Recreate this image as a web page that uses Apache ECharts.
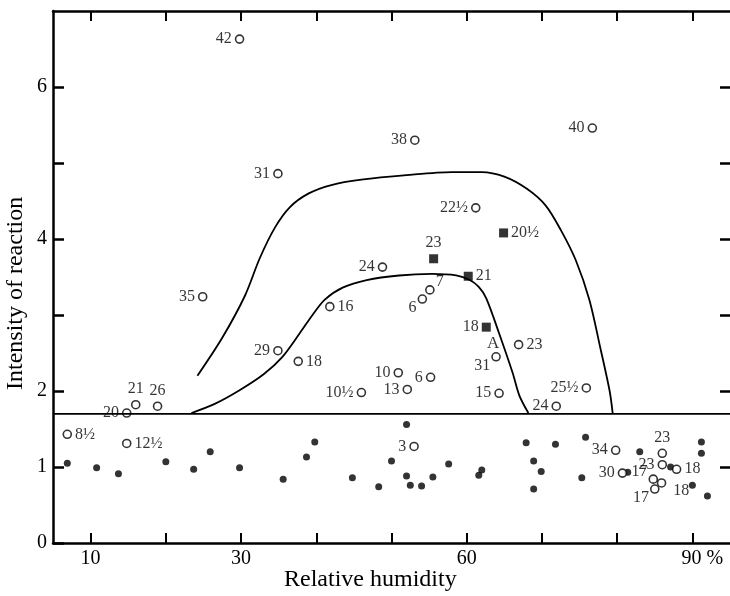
<!DOCTYPE html>
<html><head><meta charset="utf-8">
<script src="https://cdn.jsdelivr.net/npm/echarts@6/dist/echarts.min.js"></script>
<style>html,body{margin:0;padding:0;background:#fff}#c{width:730px;height:596px}</style>
</head><body><div id="c"></div>
<script>
// ---- data ----
const openX   = [29.8, 53.1, 76.7, 34.9, 61.2, 24.9, 48.8, 41.8, 55.1, 54.1, 37.6, 34.9, 50.9, 55.2, 46.0, 52.1, 63.9, 64.3, 66.9, 75.9, 71.9, 14.8, 16.0, 18.9, 6.9, 14.8, 53.0, 79.8, 86.0, 86.0, 87.9, 80.7, 84.8, 85.0, 85.9];
const openY   = [6.63, 5.30, 5.46, 4.86, 4.41, 3.24, 3.63, 3.11, 3.33, 3.21, 2.39, 2.53, 2.24, 2.18, 1.98, 2.02, 2.45, 1.97, 2.61, 2.04, 1.80, 1.71, 1.82, 1.80, 1.43, 1.31, 1.27, 1.22, 1.18, 1.03, 0.97, 0.92, 0.84, 0.71, 0.79];
const openLbl = ['42','38','40','31','22½','35','24','16','7','6','18','29','10','6','10½','13','31','15','23','25½','24','20','21','26','8½','12½','3','34','23','23','18','30','17','17','18'];

const squareX   = [55.6, 60.2, 64.9, 62.6];
const squareY   = [3.74, 3.51, 4.08, 2.84];
const squareLbl = ['23','21','20½','18'];

const dotX = [6.9, 10.8, 13.7, 20.0, 23.7, 25.9, 29.8, 35.6, 38.7, 39.8, 44.8, 48.3, 50.0, 52.0, 52.0, 52.5, 54.0, 55.5, 57.6, 61.6, 62.0, 67.9, 68.9, 69.9, 68.9, 71.8, 75.8, 75.3, 83.0, 81.4, 87.1, 91.2, 91.2, 90.0, 92.0];
const dotY = [1.05, 0.99, 0.91, 1.07, 0.97, 1.20, 0.99, 0.84, 1.13, 1.33, 0.86, 0.74, 1.08, 1.56, 0.88, 0.76, 0.75, 0.87, 1.04, 0.89, 0.96, 1.32, 1.08, 0.94, 0.71, 1.30, 1.39, 0.86, 1.20, 0.93, 1.00, 1.33, 1.18, 0.76, 0.62];

const innerX = [23.4, 26.5, 29.8, 33.0, 35.5, 37.8, 39.5, 41.1, 43.5, 46.7, 51.0, 55.4, 58.6, 60.4, 61.6, 62.6, 64.3, 66.1, 67.0, 68.2];
const innerY = [1.71, 1.83, 2.01, 2.22, 2.45, 2.76, 3.00, 3.20, 3.36, 3.46, 3.52, 3.54, 3.52, 3.46, 3.37, 3.22, 2.76, 2.24, 1.94, 1.71];
const outerX = [24.2, 27.5, 30.5, 32.5, 34.5, 36.5, 39.0, 42.0, 46.0, 52.0, 58.0, 62.0, 65.0, 68.0, 70.5, 72.5, 74.5, 76.3, 77.8, 79.0, 79.4];
const outerY = [2.20, 2.70, 3.25, 3.75, 4.15, 4.42, 4.60, 4.71, 4.78, 4.84, 4.88, 4.88, 4.82, 4.66, 4.44, 4.12, 3.72, 3.20, 2.55, 2.00, 1.71];

const thresholdY = 1.7;
const markA = {x: 63.5, y: 2.62, text: 'A'};

const xTicks  = [10, 20, 30, 40, 50, 60, 70, 80, 90];
const xLabels = [10, 30, 60, 90];
const yTicks  = [0, 1, 2, 3, 4, 5, 6];
const yLabels = [0, 1, 2, 4, 6];

// ---- label placement (style only) ----
const openPos = ['left','left','left','left','left','left','left','right','topright','bottomleft','right','left','left','left','left','left','bottomleft','left','right','left','left','left','top','top','right','right','left','left','top','left','right','left','topleft','bottomleft','bottomright'];
const squarePos = ['top','right','right','left'];

const serif = '"Liberation Serif","DejaVu Serif",serif';
function lab(pos) {
  const base = {show: true, color: '#000', fontFamily: serif, fontSize: 16, distance: 3};
  if (pos === 'topright') return Object.assign(base, {position: 'right', offset: [-2, -8]});
  if (pos === 'bottomleft') return Object.assign(base, {position: 'left', offset: [2, 9]});
  if (pos === 'topleft') return Object.assign(base, {position: 'left', offset: [2, -7]});
  if (pos === 'bottomright') return Object.assign(base, {position: 'right', offset: [4, 8]});
  return Object.assign(base, {position: pos});
}

const openData = openX.map((x, i) => ({value: [x, openY[i]], label: lab(openPos[i])}));
const squareData = squareX.map((x, i) => ({value: [x, squareY[i]], label: lab(squarePos[i])}));
const dotData = dotX.map((x, i) => [x, dotY[i]]);
const inner = innerX.map((x, i) => [x, innerY[i]]);
const outer = outerX.map((x, i) => [x, outerY[i]]);

const chart = echarts.init(document.getElementById('c'), null, {renderer: 'canvas'});
chart.setOption({
  animation: false,
  backgroundColor: '#fff',
  grid: {left: 53, right: 0, top: 11, bottom: 53},
  xAxis: [{
    type: 'value', min: 5, max: 95, position: 'bottom',
    axisLine: {onZero: false, lineStyle: {color: '#000', width: 2.5}},
    axisTick: {inside: true, length: 10, lineStyle: {color: '#000', width: 2}, customValues: xTicks},
    axisLabel: {color: '#000', fontFamily: serif, fontSize: 20, margin: 6, customValues: xLabels,
      formatter: v => v === 90 ? '    90 %' : String(v)},
    splitLine: {show: false}
  }, {
    type: 'value', min: 5, max: 95, position: 'top',
    axisLine: {show: true, onZero: false, lineStyle: {color: '#000', width: 2.5}},
    axisTick: {show: true, inside: true, length: 10, lineStyle: {color: '#000', width: 2}, customValues: xTicks},
    axisLabel: {show: false}, splitLine: {show: false}
  }],
  yAxis: [{
    type: 'value', min: 0, max: 7, position: 'left',
    axisLine: {show: true, onZero: false, lineStyle: {color: '#000', width: 2.5}},
    axisTick: {inside: true, length: 11, lineStyle: {color: '#000', width: 2.5}, customValues: yTicks},
    axisLabel: {color: '#000', fontFamily: serif, fontSize: 20, margin: 6, customValues: yLabels},
    splitLine: {show: false}
  }, {
    type: 'value', min: 0, max: 7, position: 'right',
    axisLine: {show: false, onZero: false},
    axisTick: {show: true, inside: true, length: 10, lineStyle: {color: '#000', width: 2.5}, customValues: [1, 2, 3, 4, 5, 6]},
    axisLabel: {show: false}, splitLine: {show: false}
  }],
  graphic: [
    {type: 'text', left: 284, top: 568, style: {text: 'Relative humidity', font: '24px ' + serif, fill: '#000'}},
    {type: 'text', x: 4, y: 390, rotation: Math.PI / 2, style: {text: 'Intensity of reaction', font: '24px ' + serif, fill: '#000'}}
  ],
  series: [
    {type: 'line', data: [[5, thresholdY], [95, thresholdY]], symbol: 'none', lineStyle: {color: '#000', width: 1.8}, silent: true},
    {type: 'line', data: inner, smooth: 0.3, symbol: 'none', lineStyle: {color: '#000', width: 1.8}},
    {type: 'line', data: outer, smooth: 0.3, symbol: 'none', lineStyle: {color: '#000', width: 1.8}},
    {type: 'scatter', data: dotData, symbol: 'circle', symbolSize: 7, itemStyle: {color: '#000'}},
    {type: 'scatter', data: openData, symbol: 'circle', symbolSize: 8,
      itemStyle: {color: '#fff', borderColor: '#000', borderWidth: 1.6},
      label: {formatter: p => openLbl[p.dataIndex]}},
    {type: 'scatter', data: squareData, symbol: 'rect', symbolSize: 9, itemStyle: {color: '#000'},
      label: {formatter: p => squareLbl[p.dataIndex]}},
    {type: 'scatter', data: [[markA.x, markA.y]], symbolSize: 1, itemStyle: {color: 'rgba(0,0,0,0)'},
      label: {show: true, position: 'inside', formatter: markA.text, color: '#000', fontFamily: serif, fontSize: 17}}
  ]
});
</script></body></html>
